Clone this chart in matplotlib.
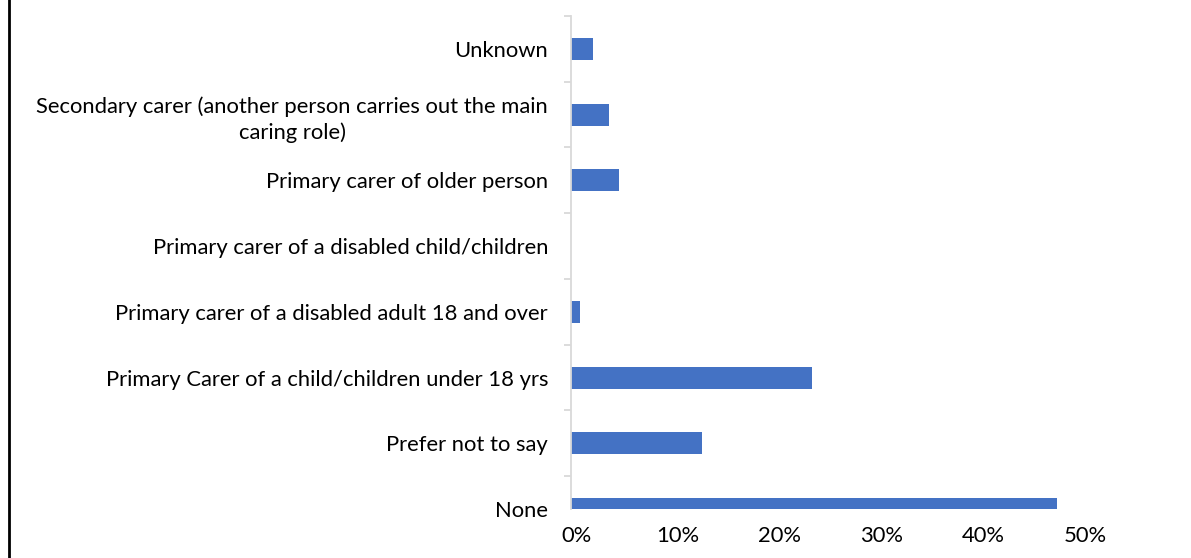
import matplotlib
matplotlib.use('Agg')
import matplotlib.pyplot as plt
import matplotlib.transforms as mtransforms
from matplotlib.lines import Line2D

# --- data (bottom to top, as drawn) ---
categories = [
    "None",
    "Prefer not to say",
    "Primary Carer of a child/children under 18 yrs",
    "Primary carer of a disabled adult 18 and over",
    "Primary carer of a disabled child/children",
    "Primary carer of older person",
    "Secondary carer (another person carries out the main\ncaring role)",
    "Unknown",
]
shares = [47.7, 12.9, 23.7, 0.9, 0.0, 4.7, 3.7, 2.2]
x_ticks = [0, 10, 20, 30, 40, 50]
x_tick_labels = ["0%", "10%", "20%", "30%", "40%", "50%"]

BAR_COLOR = "#4472C4"
AXIS_GREY = "#D9D9D9"
FONT_SIZE = 15.8

plt.rcParams['font.family'] = ['Lato', 'DejaVu Sans']

fig = plt.figure(figsize=(11.91, 5.58), dpi=100)
W, H = 1191, 558
ax = fig.add_axes([571 / W, 1 - 509 / H, (1080 - 571) / W, (509 - 16) / H])

ypos = list(range(len(categories)))
ax.barh(ypos, shares, height=0.335, color=BAR_COLOR, zorder=2)

ax.set_xlim(0, 50)
ax.set_ylim(0, len(categories) - 0.5)

# y axis: labels at category centres, small tick marks at boundaries
ax.set_yticks(ypos)
ax.set_yticklabels(categories, fontsize=FONT_SIZE, multialignment='center',
                   linespacing=1.35)
ax.tick_params(axis='y', which='major', length=0, pad=16.5)
ax.set_yticks([i + 0.5 for i in ypos], minor=True)
ax.tick_params(axis='y', which='minor', length=5, width=1.3, color=AXIS_GREY)

# x axis: labels only
ax.set_xticks(x_ticks)
ax.set_xticklabels(x_tick_labels, fontsize=FONT_SIZE)
ax.tick_params(axis='x', length=0, pad=12)
offset = mtransforms.ScaledTranslation(5 / 100, 0, fig.dpi_scale_trans)
for lbl in ax.get_xticklabels():
    lbl.set_transform(lbl.get_transform() + offset)

for side in ['top', 'right', 'bottom']:
    ax.spines[side].set_visible(False)
ax.spines['left'].set_color(AXIS_GREY)
ax.spines['left'].set_linewidth(1.3)

# left frame line of the surrounding box
fig.add_artist(Line2D([8.5 / W, 8.5 / W], [0, 1], color='black', linewidth=2.0,
                      transform=fig.transFigure))

fig.savefig("out.png", dpi=100)
